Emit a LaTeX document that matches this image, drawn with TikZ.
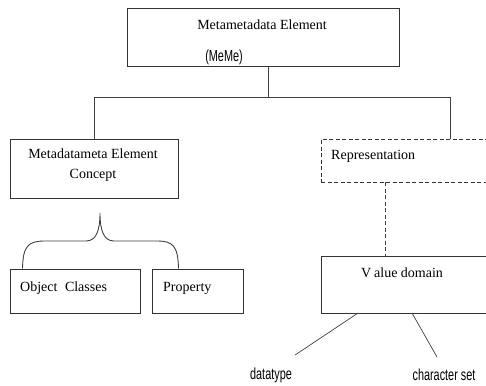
\documentclass[tikz,border=0pt]{standalone}
\usepackage{fontspec}
\setmainfont{Liberation Serif}
\newfontfamily\narrowsans[FakeStretch=0.68]{Liberation Sans}
\usetikzlibrary{calc}
\begin{document}
\begin{tikzpicture}[x=1pt,y=-1pt,
  boxline/.style={draw=black!80,line width=1pt},
  solidbox/.style={boxline,rectangle,inner sep=0pt},
  dashbox/.style={boxline,rectangle,inner sep=0pt,dash pattern=on 4pt off 2.5pt},
  serif/.style={inner sep=0pt,font=\fontsize{14}{20}\selectfont,text=black},
  narrow/.style={inner sep=0pt,font=\narrowsans\fontsize{16}{18}\selectfont,text=black},
  conn/.style={draw=black!75,line width=0.9pt}]
\useasboundingbox (0,0) rectangle (486,385);
\fill[white] (0,0) rectangle (486,385);
% boxes
\node[solidbox,minimum width=272pt,minimum height=58pt] (top) at (263,38) {};
\node[solidbox,minimum width=168pt,minimum height=59pt] (concept) at (94,168.5) {};
\node[solidbox,minimum width=130pt,minimum height=44pt] (obj) at (75,291) {};
\node[solidbox,minimum width=91pt,minimum height=44pt] (prop) at (197.5,291) {};
\node[dashbox,minimum width=199pt,minimum height=43pt] (rep) at (420.5,160.5) {};
\node[solidbox,minimum width=199pt,minimum height=57pt] (vd) at (420.5,284.5) {};
% texts
\node[serif] (t1) at (262,25) {Metametadata Element};
\node[narrow] (t2) at (224,57) {(MeMe)};
\node[serif,align=center] (t3) at (93,165) {Metadatameta Element\\Concept};
\node[serif,anchor=west] (t4) at (331,156) {Representation};
\node[serif] (t5) at (402,273) {V\kern3pt alue domain};
\node[serif,anchor=west] (t6) at (20,288) {Object\hspace{4pt} Classes};
\node[serif,anchor=west] (t7) at (163,288) {Property};
\node[narrow] (dt) at (271,375) {datatype};
\node[narrow] (cs) at (444,375) {character set};
% trunk
\coordinate (hub) at (268,97);
\coordinate (topout) at (268,67);
\coordinate (hl) at (concept.north |- hub);
\coordinate (replink) at (450,139);
\coordinate (hr) at (replink |- hub);
\draw[conn] (topout) -- (hub);
\draw[conn] (concept.north) -- (hl) -- (hr) -- (replink);
% dashed link
\coordinate (rd) at (385,182);
\coordinate (vu) at (385,256);
\draw[conn,dash pattern=on 4pt off 2.5pt] (rd) -- (vu);
% brace
\coordinate (bl) at ($(obj.north west)+(13,0)$);
\coordinate (br) at ($(prop.north east)+(-65,0)$);
\coordinate (tip) at (100,213);
\draw[conn] (bl) .. controls (23,246) and (28,241) .. (45,241) -- (86,241)
  .. controls (96,241) and (100,231) .. (tip)
  .. controls (100,231) and (104,241) .. (114,241) -- (157,241)
  .. controls (173,241) and (178,246) .. (br);
% value domain links
\coordinate (v1) at (358,313);
\coordinate (v2) at (412,313);
\draw[conn,line width=0.7pt] (v1) -- (295,355);
\draw[conn,line width=0.7pt] (v2) -- (437,357);
\end{tikzpicture}
\end{document}
